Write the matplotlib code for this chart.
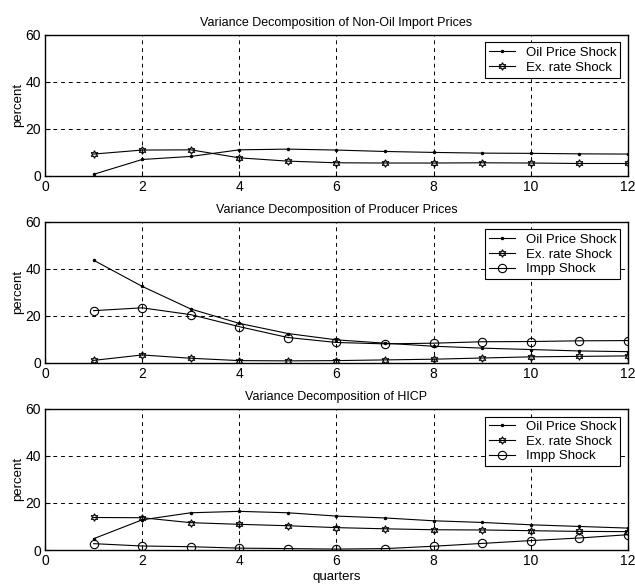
import numpy as np
import matplotlib
matplotlib.use("Agg")
import matplotlib.pyplot as plt

plt.rcParams['font.family'] = ['Liberation Sans Narrow', 'Liberation Sans', 'DejaVu Sans']

quarters = np.arange(1, 13)

# Non-oil import prices
imp_oil = [0.7, 7.0, 8.3, 11.1, 11.4, 11.0, 10.4, 10.0, 9.7, 9.6, 9.4, 9.3]
imp_ex = [9.3, 11.0, 11.1, 7.7, 6.3, 5.6, 5.5, 5.5, 5.6, 5.5, 5.3, 5.3]

# Producer prices
ppi_oil = [43.6, 32.5, 22.9, 16.8, 12.5, 9.8, 8.4, 7.1, 6.3, 5.7, 5.1, 4.8]
ppi_ex = [1.1, 3.4, 2.0, 1.0, 0.9, 1.0, 1.3, 1.6, 2.1, 2.6, 2.8, 3.0]
ppi_impp = [22.2, 23.4, 20.5, 15.4, 10.8, 8.7, 8.1, 8.4, 9.0, 9.1, 9.4, 9.5]

# HICP
hicp_oil = [4.8, 12.8, 15.8, 16.4, 15.8, 14.4, 13.6, 12.4, 11.7, 10.7, 10.0, 9.3]
hicp_ex = [13.8, 13.7, 11.6, 10.9, 10.3, 9.5, 9.0, 8.6, 8.5, 8.2, 7.9, 7.8]
hicp_impp = [2.7, 1.7, 1.4, 0.8, 0.6, 0.4, 0.6, 1.6, 2.8, 4.0, 5.1, 6.5]

titles = ["Variance Decomposition of Non-Oil Import Prices",
          "Variance Decomposition of Producer Prices",
          "Variance Decomposition of HICP"]
panels = [(imp_oil, imp_ex, None), (ppi_oil, ppi_ex, ppi_impp), (hicp_oil, hicp_ex, hicp_impp)]

fig = plt.figure(figsize=(6.35, 5.88), dpi=100)
bottoms = [0.7007, 0.3827, 0.0646]

for i, (oil, ex, impp) in enumerate(panels):
    ax = fig.add_axes([0.0709, bottoms[i], 0.918, 0.2405])
    ax.plot(quarters, oil, color='k', lw=0.8, marker='.', ms=3, label='Oil Price Shock')
    ax.plot(quarters, ex, color='k', lw=0.8, marker=(6, 1, 0), ms=5.5, mfc='none', mew=0.8,
            label='Ex. rate Shock')
    if impp is not None:
        ax.plot(quarters, impp, color='k', lw=0.8, marker='o', ms=6, mfc='none', mew=0.8,
                label='Impp Shock')
    ax.set_xlim(0, 12)
    ax.set_ylim(0, 60)
    ax.set_xticks(range(0, 13, 2))
    ax.set_yticks(range(0, 61, 20))
    ax.grid(True, color='k', ls=(0, (4, 4)), lw=0.7)
    ax.tick_params(direction='in', labelsize=10, pad=3)
    for s in ax.spines.values():
        s.set_linewidth(1.0)
    ax.set_ylabel('percent', fontsize=9.5, labelpad=1)
    ax.set_title(titles[i], fontsize=9, pad=6)
    leg = ax.legend(loc='upper right', fontsize=9.5, fancybox=False, framealpha=1,
                    edgecolor='k', borderaxespad=0.6, handlelength=2.0,
                    labelspacing=0.2, borderpad=0.3)
    leg.get_frame().set_linewidth(0.8)
    if i == 2:
        ax.set_xlabel('quarters', fontsize=9.5, labelpad=2)

fig.savefig('out.png', dpi=100)
